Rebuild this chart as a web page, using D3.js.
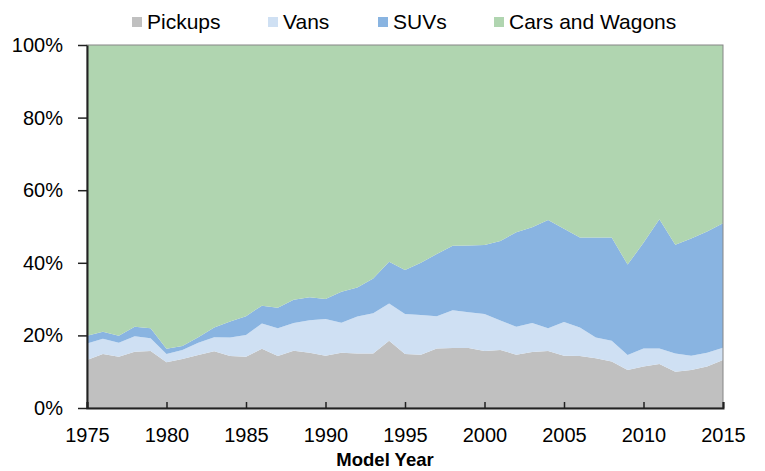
<!DOCTYPE html>
<html lang="en">
<head>
  <meta charset="UTF-8">
  <title>Production share by vehicle type</title>
  <script src="https://d3js.org/d3.v7.min.js"></script>
  <style>
    body { margin: 0; background: #fff; }
    svg text { font-family: "Liberation Sans", Arial, sans-serif; fill: #000; }
  </style>
</head>
<body>
  <svg width="765" height="471"></svg>
  <script>
  // model years and share (%) of each vehicle type
  var years = d3.range(1975, 2016);
  var pickups = [13.2, 14.9, 14.1, 15.5, 15.7, 12.6, 13.5, 14.6, 15.6, 14.3, 14.1, 16.3, 14.3, 15.8, 15.2, 14.4, 15.2, 15.0, 15.0, 18.5,
                 14.9, 14.7, 16.4, 16.5, 16.5, 15.7, 16.0, 14.7, 15.4, 15.7, 14.4, 14.3, 13.7, 12.8, 10.5, 11.4, 12.1, 10.0, 10.5, 11.4, 13.2];
  var vans    = [4.6, 4.2, 3.9, 4.3, 3.5, 2.3, 2.5, 3.4, 3.9, 5.1, 6.0, 7.0, 7.7, 7.6, 9.0, 10.1, 8.3, 10.2, 11.1, 10.3,
                 11.0, 10.9, 8.9, 10.4, 9.9, 10.2, 8.1, 7.7, 8.0, 6.3, 9.3, 7.9, 5.7, 5.7, 4.1, 5.0, 4.3, 5.0, 3.9, 3.8, 3.4];
  var suvs    = [2.1, 1.9, 1.9, 2.6, 2.8, 1.4, 1.1, 1.5, 2.7, 4.4, 5.2, 4.9, 5.6, 6.4, 6.3, 5.5, 8.5, 8.0, 9.6, 11.5,
                 12.1, 14.4, 17.1, 17.8, 18.4, 19.0, 21.9, 26.0, 26.4, 29.8, 25.7, 24.8, 27.6, 28.5, 24.9, 29.1, 35.6, 30.0, 32.3, 33.4, 34.3];
  var cars    = [80.1, 79.0, 80.1, 77.6, 78.0, 83.7, 82.9, 80.5, 77.8, 76.2, 74.7, 71.8, 72.4, 70.2, 69.5, 70.0, 68.0, 66.8, 64.3, 59.7,
                 62.0, 60.0, 57.6, 55.3, 55.2, 55.1, 54.0, 51.6, 50.2, 48.2, 50.6, 53.0, 53.0, 53.0, 60.5, 54.5, 48.0, 55.0, 53.3, 51.4, 49.1];

  var seriesNames = ["Pickups", "Vans", "SUVs", "Cars and Wagons"];
  var colors = ["#c0c0c0", "#cfe0f3", "#89b4e1", "#b0d5b0"];
  var xTicks = [1975, 1980, 1985, 1990, 1995, 2000, 2005, 2010, 2015];
  var yTicks = [0, 20, 40, 60, 80, 100];

  var table = years.map(function(yr, i) {
    return {year: yr, "Pickups": pickups[i], "Vans": vans[i], "SUVs": suvs[i], "Cars and Wagons": cars[i]};
  });

  var svg = d3.select("svg"),
      margin = {top: 45, right: 42, bottom: 63, left: 87},
      width = +svg.attr("width") - margin.left - margin.right,
      height = +svg.attr("height") - margin.top - margin.bottom,
      g = svg.append("g").attr("transform", "translate(" + margin.left + "," + margin.top + ")");

  var x = d3.scaleLinear().domain([1975, 2015]).range([0, width]);
  var y = d3.scaleLinear().domain([0, 100]).range([height, 0]);

  // stacked to 100%
  var stack = d3.stack().keys(seriesNames).offset(d3.stackOffsetExpand);
  var layers = stack(table);

  var area = d3.area()
      .x(function(d) { return x(d.data.year); })
      .y0(function(d) { return y(d[0] * 100); })
      .y1(function(d) { return y(d[1] * 100); });

  g.selectAll(".layer")
    .data(layers)
    .enter().append("path")
      .attr("class", "layer")
      .attr("fill", function(d, i) { return colors[i]; })
      .attr("d", area);

  // plot frame
  g.append("rect")
      .attr("width", width)
      .attr("height", height)
      .attr("fill", "none")
      .attr("stroke", "#868686")
      .attr("stroke-width", 1);

  // x axis, ticks pointing up into the plot
  var xAxis = g.append("g")
      .attr("transform", "translate(0," + height + ")")
      .call(d3.axisBottom(x).tickValues(xTicks).tickFormat(d3.format("d")).tickSize(-6));
  xAxis.select(".domain").attr("stroke", "#222").attr("stroke-width", 2);
  xAxis.selectAll(".tick line").attr("stroke", "#222").attr("stroke-width", 1.5);
  xAxis.selectAll("text").attr("y", 34).attr("dy", 0).style("font-size", "20px");

  var yAxis = g.append("g")
      .call(d3.axisLeft(y).tickValues(yTicks).tickFormat(function(d) { return d + "%"; }).tickSizeInner(9).tickSizeOuter(0));
  yAxis.select(".domain").attr("stroke", "#222").attr("stroke-width", 2);
  yAxis.selectAll(".tick line").attr("stroke", "#222").attr("stroke-width", 1.5);
  yAxis.selectAll("text").attr("x", -24).style("font-size", "20px");

  svg.append("text")
      .attr("x", 385)
      .attr("y", 466)
      .attr("text-anchor", "middle")
      .style("font-size", "18.5px")
      .style("font-weight", "bold")
      .text("Model Year");

  // legend
  var legendX = [132, 268, 378, 494];
  var legend = svg.selectAll(".legend")
    .data(seriesNames)
    .enter().append("g")
      .attr("class", "legend")
      .attr("transform", function(d, i) { return "translate(" + legendX[i] + ",0)"; });
  legend.append("rect")
      .attr("y", 17)
      .attr("width", 10)
      .attr("height", 10)
      .attr("fill", function(d, i) { return colors[i]; });
  legend.append("text")
      .attr("x", 15)
      .attr("y", 29)
      .style("font-size", "21px")
      .text(function(d) { return d; });
  </script>
</body>
</html>
